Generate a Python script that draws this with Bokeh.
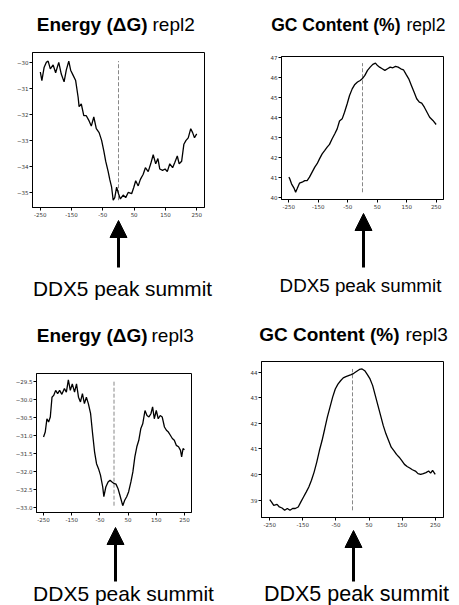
from bokeh.plotting import figure
from bokeh.layouts import column, row
from bokeh.models import Arrow, NormalHead, FixedTicker, Range1d
from bokeh.core.properties import value
from bokeh.embed import file_html
from bokeh.resources import INLINE

# ---------------- data ----------------
xtick_vals = [-250, -150, -50, 50, 150, 250]
xtick_labels = ["-250", "-150", "-50", "50", "150", "250"]

energy2_pos = [-250, -245, -238, -231, -225, -218, -209, -201, -191, -183,
               -174, -167, -159, -153, -145, -137, -129, -126, -119, -111,
               -103, -94, -87, -79, -71, -62, -54, -47, -41, -33,
               -28, -22, -17, -12, -6, 0, 6, 15, 23, 31,
               42, 49, 55, 63, 70, 79, 86, 95, 103, 111,
               119, 126, 132, 141, 149, 156, 164, 173, 180, 188,
               194, 202, 209, 216, 223, 231, 237, 243, 250]
energy2_val = [-30.37, -30.7, -30.2, -30.0, -29.95, -30.25, -30.1, -30.4, -30.0, -30.45,
               -30.75, -30.3, -29.95, -30.3, -30.5, -30.7, -31.35, -31.7, -31.6, -32.05,
               -32.05, -32.25, -32.45, -32.1, -32.55, -32.7, -33.0, -33.4, -33.8, -34.2,
               -34.5, -34.8, -35.3, -35.2, -34.8, -35.05, -35.25, -35.1, -35.2, -35.0,
               -35.05, -34.8, -34.55, -34.75, -34.5, -34.3, -34.05, -34.2, -33.9, -33.55,
               -33.9, -33.7, -34.1, -34.15, -34.1, -34.2, -33.9, -34.05, -33.85, -33.6,
               -33.9, -33.8, -33.15, -33.0, -32.9, -32.55, -32.7, -32.9, -32.75]
energy2_yticks = [-30, -31, -32, -33, -34, -35]
energy2_ylabels = ["\u221230", "\u221231", "\u221232", "\u221233", "\u221234", "\u221235"]

gc2_pos = [-250, -247, -241, -233, -227, -222, -214, -205, -196, -188,
           -180, -171, -162, -154, -146, -137, -128, -120, -112, -103,
           -94, -86, -78, -69, -61, -52, -44, -35, -26, -17,
           -8, -1, 8, 17, 26, 35, 44, 51, 58, 67,
           76, 85, 94, 103, 112, 121, 130, 139, 148, 157,
           166, 175, 184, 193, 201, 210, 219, 228, 239, 250]
gc2_val = [41.03, 40.95, 40.7, 40.5, 40.28, 40.45, 40.73, 40.78, 40.86, 40.86,
           41.03, 41.28, 41.53, 41.7, 41.94, 42.19, 42.36, 42.52, 42.66, 42.94,
           43.19, 43.43, 43.82, 43.93, 44.26, 44.68, 45.09, 45.42, 45.64, 45.76,
           45.84, 45.92, 46.09, 46.34, 46.5, 46.64, 46.7, 46.58, 46.5, 46.42,
           46.34, 46.42, 46.5, 46.47, 46.54, 46.5, 46.42, 46.37, 46.14, 45.92,
           45.59, 45.26, 44.93, 44.76, 44.71, 44.51, 44.26, 44.01, 43.85, 43.65]
gc2_yticks = [40, 41, 42, 43, 44, 45, 46, 47]
gc2_ylabels = ["40", "41", "42", "43", "44", "45", "46", "47"]

energy3_pos = [-250, -244, -238, -232, -226, -220, -214, -207, -200, -193,
               -185, -176, -169, -162, -155, -148, -140, -133, -126, -119,
               -112, -105, -98, -91, -83, -76, -69, -62, -55, -48,
               -40, -36, -29, -21, -14, -7, 0, 7, 14, 21,
               31, 38, 45, 52, 60, 67, 74, 81, 88, 95,
               102, 110, 117, 124, 131, 137, 143, 150, 157, 164,
               171, 179, 186, 193, 200, 207, 214, 221, 229, 236,
               240, 245, 250]
energy3_val = [-31.04, -30.9, -30.53, -30.62, -30.48, -29.93, -29.88, -29.74, -29.83, -29.74,
               -29.85, -29.69, -29.79, -29.45, -29.74, -29.56, -29.79, -29.56, -29.93, -30.06,
               -29.83, -30.11, -29.93, -30.11, -30.39, -30.94, -31.45, -31.78, -31.92, -32.1,
               -32.43, -32.7, -32.43, -32.29, -32.24, -32.29, -32.33, -32.35, -32.47, -32.66,
               -32.95, -32.8, -32.7, -32.56, -32.29, -32.01, -31.59, -31.31, -31.13, -30.81,
               -30.67, -30.3, -30.44, -30.48, -30.39, -30.2, -30.53, -30.3, -30.53, -30.44,
               -30.48, -30.76, -30.85, -30.9, -30.99, -31.08, -31.13, -31.27, -31.31, -31.41,
               -31.59, -31.36, -31.39]
energy3_yticks = [-29.5, -30.0, -30.5, -31.0, -31.5, -32.0, -32.5, -33.0]
energy3_ylabels = ["\u221229.5", "\u221230.0", "\u221230.5", "\u221231.0",
                   "\u221231.5", "\u221232.0", "\u221232.5", "\u221233.0"]

gc3_pos = [-250, -245, -238, -228, -221, -213, -205, -197, -189, -181,
           -173, -164, -156, -148, -140, -132, -124, -116, -108, -100,
           -92, -84, -76, -68, -60, -52, -44, -36, -28, -20,
           -12, -4, 4, 13, 21, 29, 37, 45, 53, 61,
           69, 77, 85, 93, 101, 109, 117, 125, 133, 141,
           149, 157, 165, 173, 181, 190, 198, 206, 214, 222,
           230, 236, 242, 250]
gc3_val = [39.03, 38.94, 38.8, 38.84, 38.74, 38.7, 38.61, 38.68, 38.61, 38.68,
           38.68, 38.74, 38.94, 39.13, 39.32, 39.52, 39.78, 40.1, 40.49, 40.94,
           41.33, 41.78, 42.24, 42.63, 43.02, 43.34, 43.53, 43.66, 43.77, 43.82,
           43.86, 43.9, 43.95, 44.03, 44.1, 44.12, 44.05, 43.9, 43.73, 43.47,
           43.08, 42.69, 42.3, 41.91, 41.59, 41.33, 41.07, 40.94, 40.79, 40.68,
           40.55, 40.4, 40.32, 40.26, 40.19, 40.14, 40.04, 40.01, 40.04, 40.08,
           40.14, 40.06, 40.17, 40.01]
gc3_yticks = [39, 40, 41, 42, 43, 44]
gc3_ylabels = ["39", "40", "41", "42", "43", "44"]

caption = "DDX5 peak summit"
summit_pos = 0

FONT = "Liberation Sans"


def blank(w, h):
    f = figure(width=w, height=h, x_range=Range1d(0, w), y_range=Range1d(h, 0),
               x_axis_type=None, y_axis_type=None, output_backend="svg",
               toolbar_location=None, title=None, min_border=0,
               min_border_left=0, min_border_right=0,
               min_border_top=0, min_border_bottom=0, frame_align=False)
    f.outline_line_color = None
    f.grid.visible = False
    f.background_fill_color = "white"
    f.border_fill_color = "white"
    return f


def plot_part(xs, ys, yticks, ylabels, yr, w, h, bl, br, bb):
    p = figure(width=w, height=h, x_range=Range1d(-275, 275), y_range=Range1d(*yr),
               output_backend="svg", toolbar_location=None, title=None,
               min_border_left=bl, min_border_right=br,
               min_border_top=2, min_border_bottom=bb, frame_align=False)
    p.background_fill_color = "white"
    p.border_fill_color = "white"
    p.outline_line_color = "black"
    p.outline_line_width = 1
    p.grid.visible = False
    for ax in (p.xaxis[0], p.yaxis[0]):
        ax.axis_line_color = "black"
        ax.major_tick_out = 3
        ax.major_tick_in = 0
        ax.minor_tick_out = 0
        ax.minor_tick_in = 0
        ax.major_tick_line_color = "black"
        ax.major_label_text_font = "DejaVu Sans"
        ax.major_label_text_color = "#333333"
        ax.major_label_standoff = 1
        ax.major_label_text_font_size = "5.5px"
    p.xaxis.ticker = FixedTicker(ticks=xtick_vals)
    p.xaxis.major_label_overrides = dict(zip(xtick_vals, xtick_labels))
    p.yaxis.ticker = FixedTicker(ticks=yticks)
    p.yaxis.major_label_overrides = dict(zip(yticks, ylabels))

    p.line([summit_pos, summit_pos], [min(ys), max(ys)], line_color="#888888",
           line_dash="4 2", line_width=1)
    p.line(xs, ys, line_color="black", line_width=1.3)
    return p


def panel(xs, ys, yticks, ylabels, yr, w, top_h, plot_h, bot_h, bl, br, bb,
          bold, normal, split_l, split_r, title_base, title_size,
          arrow_x, tip_y, tail_y, cap_x, cap_base, cap_size):
    t = blank(w, top_h)
    t.text(x=[split_l], y=[title_base], text=[bold], text_align="right",
           text_baseline="alphabetic", text_font=value(FONT), text_font_style="bold",
           text_font_size=f"{title_size}px", text_color="black")
    t.text(x=[split_r], y=[title_base], text=[normal], text_align="left",
           text_baseline="alphabetic", text_font=value(FONT),
           text_font_size=f"{title_size}px", text_color="black")

    p = plot_part(xs, ys, yticks, ylabels, yr, w, plot_h, bl, br, bb)

    b = blank(w, bot_h)
    b.add_layout(Arrow(x_start=arrow_x, y_start=tail_y, x_end=arrow_x, y_end=tip_y,
                       line_color="black", line_width=3,
                       end=NormalHead(size=17, fill_color="black", line_color="black")))
    b.text(x=[cap_x], y=[cap_base], text=[caption], text_align="center",
           text_baseline="alphabetic", text_font=value(FONT),
           text_font_size=f"{cap_size}px", text_color="black")
    return column(t, p, b, spacing=0)


c1 = panel(energy2_pos, energy2_val, energy2_yticks, energy2_ylabels, (-35.58, -29.62),
           229, 50, 169, 81, 32, 25, 12,
           "Energy (\u0394G)", "repl2", 147, 152, 24, 19,
           118, 1, 48, 122, 69, 20.8)
c2 = panel(gc2_pos, gc2_val, gc2_yticks, gc2_ylabels, (39.92, 47.03),
           230, 54, 157, 89, 52, 16, 12,
           "GC Content (%)", "repl2", 171, 177, 24, 17.5,
           134, 2, 56, 131, 74, 18.8)
c3 = panel(energy3_pos, energy3_val, energy3_yticks, energy3_ylabels, (-33.14, -29.27),
           229, 71, 153, 81, 36, 38, 12,
           "Energy (\u0394G)", "repl3", 147, 151, 35, 19,
           115, 3, 57, 123, 69, 21)
c4 = panel(gc3_pos, gc3_val, gc3_yticks, gc3_ylabels, (38.33, 44.41),
           230, 59, 170, 76, 32, 16, 12,
           "GC Content (%)", "repl3", 170, 176, 34, 19,
           124, 1, 52, 127, 64, 21.5)

layout = column(row(c1, c2, spacing=0), row(c3, c4, spacing=0), spacing=0)
open("out.html", "w").write(file_html(layout, INLINE))
